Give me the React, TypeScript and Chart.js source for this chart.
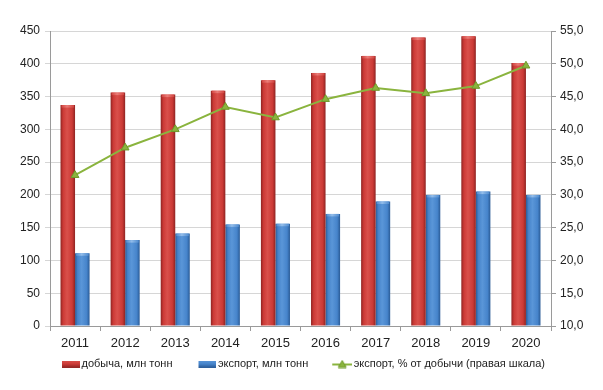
import React, { useEffect, useRef } from "react";
import { Chart, registerables } from "chart.js";

Chart.register(...registerables);

const years = ["2011", "2012", "2013", "2014", "2015", "2016", "2017", "2018", "2019", "2020"];
const production = [337, 356, 353, 359, 375, 386, 412, 440, 442, 401];
const exportVol = [111, 131, 141, 155, 156, 171, 190, 200, 205, 200];
const exportShare = [33.0, 37.2, 40.0, 43.4, 41.8, 44.6, 46.3, 45.5, 46.6, 49.7];

const seriesNames = ["добыча, млн тонн", "экспорт, млн тонн", "экспорт, % от добычи (правая шкала)"];

const RED = { dark: "#8e2422", main: "#cc3a36", light: "#d9504b", cap: "#ea7d78" };
const BLUE = { dark: "#2a5b96", main: "#4684cb", light: "#5a96d8", cap: "#93bdea" };
const GREEN = "#8ab43e";
const GREEN_DARK = "#6f9a2a";

const FONT = "'Liberation Sans', Arial, sans-serif";
const TEXT = "#222222";
const GRID = "#d6d6d6";
const AXIS = "#9a9a9a";

// legend icon canvas: 38 px wide, drawn centred on a 30 px box; visible part on the right
const ICON_W = 38;

function makeBoxIcon(c: { dark: string; main: string; light: string }) {
  const cv = document.createElement("canvas");
  cv.width = ICON_W;
  cv.height = 7;
  const g = cv.getContext("2d")!;
  const gr = g.createLinearGradient(0, 0, 0, 7);
  gr.addColorStop(0, c.light);
  gr.addColorStop(0.5, c.main);
  gr.addColorStop(1, c.dark);
  g.fillStyle = gr;
  g.fillRect(ICON_W - 18, 0, 18, 7);
  return cv;
}

function makeLineIcon() {
  const cv = document.createElement("canvas");
  cv.width = ICON_W;
  cv.height = 9;
  const g = cv.getContext("2d")!;
  const x0 = ICON_W - 20;
  g.strokeStyle = GREEN;
  g.lineWidth = 2;
  g.beginPath();
  g.moveTo(x0, 5);
  g.lineTo(ICON_W, 5);
  g.stroke();
  g.fillStyle = GREEN;
  g.strokeStyle = GREEN_DARK;
  g.lineWidth = 1;
  g.beginPath();
  g.moveTo(x0 + 10, 1);
  g.lineTo(x0 + 14, 8);
  g.lineTo(x0 + 6, 8);
  g.closePath();
  g.fill();
  g.stroke();
  return cv;
}

const barStyler = {
  id: "barStyler",
  beforeDatasetsDraw(chart: any) {
    const ctx = chart.ctx;
    [0, 1].forEach((di) => {
      const c = di === 0 ? RED : BLUE;
      const meta = chart.getDatasetMeta(di);
      meta.data.forEach((el: any) => {
        const w = el.width;
        const left = el.x - w / 2;
        const gr = ctx.createLinearGradient(left, 0, left + w, 0);
        gr.addColorStop(0, c.dark);
        gr.addColorStop(0.18, c.main);
        gr.addColorStop(0.45, c.light);
        gr.addColorStop(0.8, c.main);
        gr.addColorStop(1, c.dark);
        el.options = Object.assign({}, el.options, { backgroundColor: gr });
      });
    });
  },
  afterDatasetDraw(chart: any, args: any) {
    const di = args.index;
    if (di !== 0 && di !== 1) return;
    const ctx = chart.ctx;
    ctx.save();
    const c = di === 0 ? RED : BLUE;
    const meta = chart.getDatasetMeta(di);
    meta.data.forEach((el: any) => {
      const w = el.width;
      const left = el.x - w / 2;
      const gr = ctx.createLinearGradient(left, 0, left + w, 0);
      gr.addColorStop(0, c.main);
      gr.addColorStop(0.45, c.cap);
      gr.addColorStop(1, c.main);
      ctx.fillStyle = gr;
      ctx.fillRect(left + 1, el.y, w - 2, 2.5);
    });
    ctx.restore();
  },
};

export default function App() {
  const ref = useRef<HTMLCanvasElement | null>(null);

  useEffect(() => {
    document.body.style.margin = "0";
    const icons = [makeBoxIcon(RED), makeBoxIcon(BLUE), makeLineIcon()];
    const chart = new Chart(ref.current!, {
      type: "bar",
      data: {
        labels: years,
        datasets: [
          {
            type: "bar",
            label: seriesNames[0],
            data: production,
            backgroundColor: RED.main,
            borderWidth: 0,
            yAxisID: "y",
            categoryPercentage: 0.58,
            barPercentage: 1.0,
            order: 1,
          },
          {
            type: "bar",
            label: seriesNames[1],
            data: exportVol,
            backgroundColor: BLUE.main,
            borderWidth: 0,
            yAxisID: "y",
            categoryPercentage: 0.58,
            barPercentage: 1.0,
            order: 1,
          },
          {
            type: "line",
            label: seriesNames[2],
            data: exportShare,
            borderColor: GREEN,
            backgroundColor: GREEN,
            borderWidth: 2,
            pointStyle: "triangle",
            pointRadius: 4.5,
            pointBackgroundColor: GREEN,
            pointBorderColor: GREEN_DARK,
            pointBorderWidth: 1,
            yAxisID: "y2",
            tension: 0,
            order: 0,
          } as any,
        ],
      },
      options: {
        responsive: false,
        animation: false,
        devicePixelRatio: 1,
        layout: { padding: { top: 31, bottom: 10.5, left: 0, right: 12 } },
        plugins: {
          tooltip: { enabled: false },
          legend: {
            position: "bottom",
            labels: {
              font: { family: FONT, size: 11 },
              color: TEXT,
              padding: 10,
              usePointStyle: true,
              pointStyleWidth: 30,
              generateLabels: (ch: any) =>
                ch.data.datasets.map((ds: any, i: number) => ({
                  text: ds.label,
                  pointStyle: icons[i],
                  fillStyle: "transparent",
                  strokeStyle: "transparent",
                  lineWidth: 0,
                  hidden: false,
                  datasetIndex: i,
                  fontColor: TEXT,
                })),
            },
          },
        },
        scales: {
          x: {
            offset: true,
            grid: {
              display: true,
              offset: true,
              drawOnChartArea: false,
              drawTicks: true,
              tickLength: 5,
              color: AXIS,
            },
            border: { display: true, color: AXIS },
            ticks: {
              font: { family: FONT, size: 13 },
              color: TEXT,
              padding: 5,
              maxRotation: 0,
            },
            afterFit: (s: any) => {
              s.height = 22.5;
            },
          },
          y: {
            position: "left",
            min: 0,
            max: 450,
            ticks: {
              stepSize: 50,
              font: { family: FONT, size: 12 },
              color: TEXT,
              padding: 5,
            },
            grid: {
              color: GRID,
              drawTicks: true,
              tickLength: 5,
            },
            border: { display: true, color: AXIS },
            afterFit: (s: any) => {
              s.width = 50;
            },
          },
          y2: {
            position: "right",
            min: 10,
            max: 55,
            ticks: {
              stepSize: 5,
              font: { family: FONT, size: 12 },
              color: TEXT,
              padding: 4,
              callback: (v: any) => Number(v).toFixed(1).replace(".", ","),
            },
            grid: {
              drawOnChartArea: false,
              drawTicks: true,
              tickLength: 5,
              color: AXIS,
            },
            border: { display: true, color: AXIS },
            afterFit: (s: any) => {
              s.width = 40;
            },
          },
        },
      },
      plugins: [barStyler],
    });
    return () => chart.destroy();
  }, []);

  return (
    <div style={{ position: "absolute", left: 0, top: 0, width: 603, height: 390, background: "#fff" }}>
      <canvas ref={ref} width={603} height={390} />
    </div>
  );
}
